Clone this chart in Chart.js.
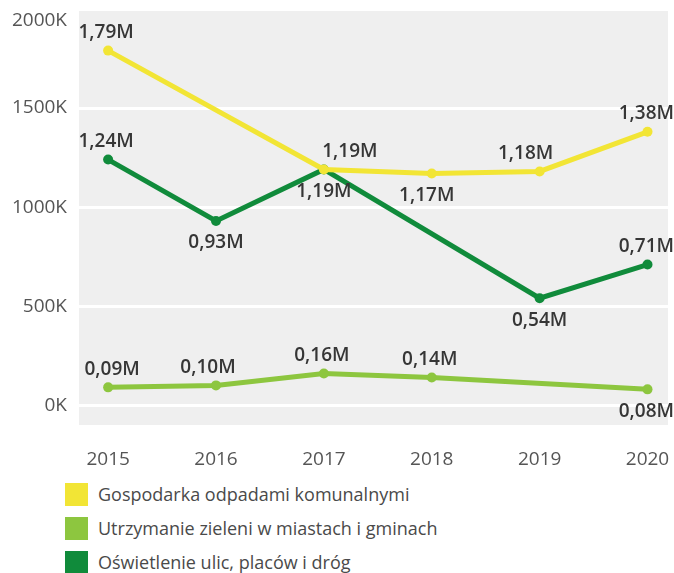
<!DOCTYPE html>
<html>
<head>
<meta charset="utf-8">
<script src="https://cdn.jsdelivr.net/npm/chart.js@4.4.0/dist/chart.umd.min.js"></script>
<style>
  body { margin: 0; background: #fff; font-family: 'Open Sans', sans-serif; overflow: hidden; }
  #wrap { position: relative; width: 674px; height: 573px; }
  #chart { display: block; }
  #legend { position: absolute; left: 65px; top: 477px; }
  .item { display: flex; align-items: center; height: 34px; font-size: 18px; color: #4a4a4a; }
  .box { width: 23px; height: 23px; margin-right: 10px; }
</style>
</head>
<body>
<div id="wrap">
  <canvas id="chart" width="674" height="470"></canvas>
  <div id="legend"></div>
</div>
<script>
const years = [2015, 2016, 2017, 2018, 2019, 2020];
const seriesNames = [
  'Gospodarka odpadami komunalnymi',
  'Utrzymanie zieleni w miastach i gminach',
  'Oświetlenie ulic, placów i dróg'
];
// values in thousands, null = no value
const odpady = [1790, null, 1190, 1170, 1180, 1380];
const zielen = [90, 100, 160, 140, null, 80];
const oswietlenie = [1240, 930, 1190, null, 540, 710];
const colors = ['#f2e535', '#8dc63f', '#108b3b'];

const toPoints = arr => years.map((y, i) => ({ x: y, y: arr[i] === null ? null : arr[i] * 1000 }));
const fmt = v => (v / 1000000).toFixed(2).replace('.', ',') + 'M';

// label placement: 'a' above, 'b' below, plus small x nudges
const labelPlugin = {
  id: 'valueLabels',
  afterDatasetsDraw(chart) {
    const ctx = chart.ctx;
    ctx.save();
    ctx.font = '600 19px "Open Sans"';
    ctx.fillStyle = '#363636';
    ctx.textAlign = 'center';
    ctx.textBaseline = 'middle';
    chart.data.datasets.forEach((ds, di) => {
      const meta = chart.getDatasetMeta(di);
      meta.data.forEach((pt, i) => {
        const raw = ds.data[i];
        if (!raw || raw.y === null) return;
        const below = ds.labelPos[i] === 'b';
        const dy = below ? 22 : -18;
        let x = pt.x + (ds.labelDx[i] || 0);
        const w = ctx.measureText(fmt(raw.y)).width;
        x = Math.min(x, chart.width - w / 2);
        ctx.fillText(fmt(raw.y), x, pt.y + dy);
      });
    });
    ctx.restore();
  }
};

const bgPlugin = {
  id: 'plotBg',
  beforeDraw(chart) {
    const { ctx, chartArea: a } = chart;
    ctx.save();
    ctx.fillStyle = '#efefef';
    ctx.fillRect(a.left, a.top, a.right - a.left, a.bottom - a.top);
    ctx.restore();
  }
};

const mkSet = (label, arr, color, labelPos, labelDx) => ({
  label,
  data: toPoints(arr),
  borderColor: color,
  backgroundColor: color,
  borderWidth: 5,
  pointRadius: 5,
  pointBorderWidth: 0,
  pointHoverRadius: 5,
  spanGaps: true,
  tension: 0,
  labelPos,
  labelDx
});

const chart = new Chart(document.getElementById('chart'), {
  type: 'line',
  data: {
    datasets: [
      mkSet(seriesNames[0], odpady, colors[0], ['a', 'a', 'a', 'b', 'a', 'a'], [-2, 0, 26, -5, -14, 0]),
      mkSet(seriesNames[1], zielen, colors[1], ['a', 'a', 'a', 'a', 'a', 'b'], [4, -8, -2, -2, 0, 0]),
      mkSet(seriesNames[2], oswietlenie, colors[2], ['a', 'b', 'b', 'a', 'b', 'a'], [-2, 0, 0, 0, 0, 0])
    ]
  },
  options: {
    responsive: false,
    animation: false,
    layout: { padding: { top: 9, right: 6, left: 0, bottom: 0 } },
    plugins: {
      legend: { display: false },
      tooltip: { enabled: false }
    },
    scales: {
      x: {
        type: 'linear',
        min: 2014.73,
        max: 2020.19,
        grid: { display: false },
        border: { display: false },
        afterBuildTicks: s => { s.ticks = years.map(v => ({ value: v })); },
        afterFit: s => { s.height = 45; s.paddingLeft = 0; s.paddingRight = 0; },
        ticks: {
          padding: 15,
          color: '#555',
          font: { family: 'Open Sans', size: 19 },
          callback: v => String(v)
        }
      },
      y: {
        min: -100000,
        max: 2000000,
        grid: { color: '#ffffff', lineWidth: 3, drawTicks: false },
        border: { display: false },
        afterBuildTicks: s => {
          s.ticks = [0, 500000, 1000000, 1500000, 2000000].map(v => ({ value: v }));
        },
        afterFit: s => { s.width = 79; s.paddingTop = 0; s.paddingBottom = 0; },
        ticks: {
          padding: 12,
          color: '#555',
          font: { family: 'Open Sans', size: 19 },
          callback: v => v === 2000000 ? ['', (v / 1000) + 'K'] : (v / 1000) + 'K'
        }
      }
    }
  },
  plugins: [bgPlugin, labelPlugin]
});

// legend
const legend = document.getElementById('legend');
chart.data.datasets.forEach(ds => {
  const row = document.createElement('div');
  row.className = 'item';
  const box = document.createElement('span');
  box.className = 'box';
  box.style.background = ds.borderColor;
  const txt = document.createElement('span');
  txt.textContent = ds.label;
  row.appendChild(box);
  row.appendChild(txt);
  legend.appendChild(row);
});
</script>
</body>
</html>
